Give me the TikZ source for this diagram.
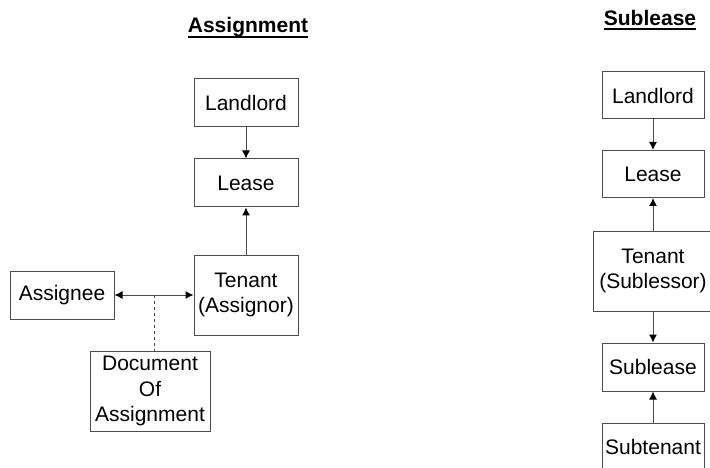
\documentclass[tikz,border=0pt]{standalone}
\usepackage{fontspec}
\setmainfont{Liberation Sans}
\usetikzlibrary{arrows.meta}

\tikzset{
  box/.style={draw=black!70, line width=1pt, minimum width=104pt, minimum height=48pt,
    inner sep=0pt, align=center, font=\fontsize{21}{25.6}\selectfont},
  heading/.style={anchor=base, inner sep=0pt, font=\fontsize{21}{25}\selectfont\bfseries},
  link/.style={draw=black!70, line width=1pt},
  >={Latex[length=8pt,width=8pt,color=black]}
}

\begin{document}
\begin{tikzpicture}[x=1pt,y=-1pt]
    \useasboundingbox (0,0) rectangle (710,468);
    % assignment
    \node (titleA) at (248,33) [heading] {Assignment};
    \draw [line width=2.5pt] ([yshift=-4pt]titleA.base west) -- ([yshift=-4pt]titleA.base east);
    \node (landA) at (246,103) [box] {Landlord};
    \node (leaseA) at (246,183) [box] {Lease};
    \node (tenA) at (246,295) [box, minimum height=80pt] {Tenant\\(Assignor)};
    \node (assignee) at (62,295) [box] {Assignee};
    \node (docA) at (150,391) [box, minimum width=120pt, minimum height=80pt] {Document\\Of\\Assignment};
    \draw [link, ->] (landA) -- (leaseA);
    \draw [link, ->] (tenA) -- (leaseA);
    \draw [link, <->] (assignee) -- (tenA);
    \coordinate (junc) at (154,295);
    \draw [link, dashed] (junc) -- (junc |- docA.north);
    % sublease
    \node (titleS) at (650,26) [heading] {Sublease};
    \draw [line width=2.5pt] ([yshift=-3pt]titleS.base west) -- ([yshift=-3pt]titleS.base east);
    \node (landS) at (653,95.5) [box, minimum width=102pt, minimum height=47pt] {Landlord};
    \node (leaseS) at (653,174) [box, minimum width=102pt, minimum height=47pt] {Lease};
    \node (tenS) at (653,271) [box, minimum width=120pt, minimum height=80pt] {Tenant\\(Sublessor)};
    \node (subS) at (653,367) [box, minimum width=102pt] {Sublease};
    \node (subten) at (653,447) [box, minimum width=102pt] {Subtenant};
    \draw [link, ->] (landS) -- (leaseS);
    \draw [link, ->] (tenS) -- (leaseS);
    \draw [link, ->] (tenS) -- (subS);
    \draw [link, ->] (subten) -- (subS);
\end{tikzpicture}
\end{document}
